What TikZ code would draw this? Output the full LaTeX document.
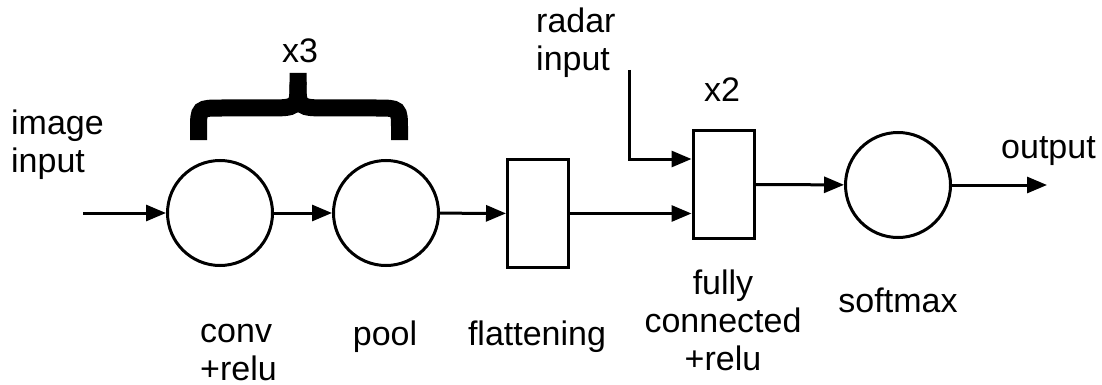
\documentclass[tikz,border=0pt]{standalone}
\usepackage{fontspec}
\setmainfont{Liberation Sans}
\usetikzlibrary{arrows.meta}
\tikzset{
  blk/.style={draw, line width=3pt, inner sep=0pt},
  circ/.style={blk, circle, minimum size=105pt},
  boxn/.style={blk, rectangle, minimum width=61pt, minimum height=108pt},
  lbl/.style={inner sep=0pt, font=\fontsize{34}{38}\selectfont},
  conn/.style={line width=3pt, -{Triangle[length=20pt,width=16pt]}},
}
\begin{document}
\begin{tikzpicture}[x=1pt,y=-1pt]
\useasboundingbox (0,0) rectangle (1102,385);
% nodes
\node[circ] (conv) at (220,213) {};
\node[circ] (pool) at (386,213) {};
\node[boxn] (flat) at (538,213.5) {};
\node[boxn] (fc) at (723.5,184.5) {};
\node[circ] (soft) at (898,185) {};
% free ends
\coordinate (imgstart) at (83,213);
\coordinate (radstart) at (629,70);
\coordinate (radbend) at (629,159);
\coordinate (outend) at (1047,185);
% connectors
\draw[conn] (imgstart) -- (conv.west);
\draw[conn] (conv) -- (pool);
\draw[conn] (pool) -- (flat);
\draw[conn] (flat.east) -- (fc.west |- flat.east);
\draw[conn] (radstart) -- (radbend) -- (fc.west |- radbend);
\draw[conn] (fc) -- (soft);
\draw[conn] (soft.east) -- (outend);
% brace
\draw[line width=17pt] (198.5,140) -- (198.5,130) .. controls (198.5,108) .. (222,108) -- (266,108) .. controls (298,108) .. (298,82) -- (298,73);
\draw[line width=17pt] (399.5,140) -- (399.5,130) .. controls (399.5,108) .. (376,108) -- (330,108) .. controls (298,108) .. (298,82);
% labels
\node[lbl, anchor=base] (x3) at (300,63) {x3};
\node[lbl, anchor=base] (x2) at (722,102) {x2};
\node[lbl, anchor=base west, align=left] (imgl) at (11,172) {image\\input};
\node[lbl, anchor=base west, align=left] (radl) at (536,71) {radar\\input};
\node[lbl, anchor=base west] (outl) at (1001,158) {output};
\node[lbl, anchor=base west, align=left] (convl) at (200,380) {conv\\+relu};
\node[lbl, anchor=base] (pooll) at (385,345) {pool};
\node[lbl, anchor=base] (flatl) at (537,345) {flattening};
\node[lbl, anchor=base, align=center] (fcl) at (723,370) {fully\\connected\\+relu};
\node[lbl, anchor=base] (softl) at (898,312) {softmax};
\end{tikzpicture}
\end{document}
